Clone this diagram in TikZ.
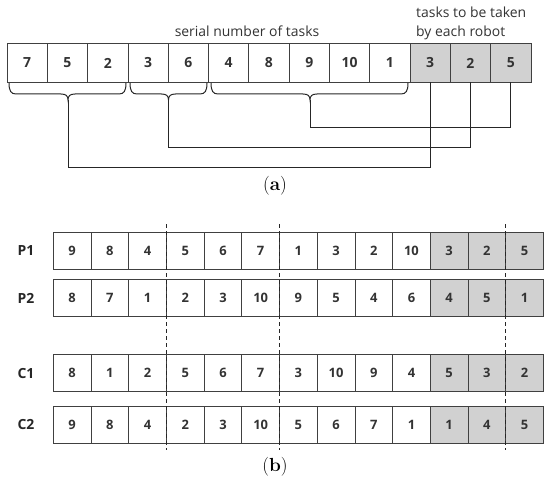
\documentclass[tikz,border=0pt]{standalone}
\usepackage{fontspec}
\newfontfamily\sansf{Open Sans}
\tikzset{
  cellA/.style={draw=black!75, line width=0.8bp, minimum width=40.3bp, minimum height=38.7bp,
    inner sep=0pt, outer sep=0pt, font=\sansf\bfseries\fontsize{14}{16}\selectfont, text=black!80},
  cellB/.style={draw=black!75, line width=0.8bp, minimum width=37.7bp, minimum height=37bp,
    inner sep=0pt, outer sep=0pt, font=\sansf\bfseries\fontsize{13}{15}\selectfont, text=black!80},
  robot/.style={fill=black!18},
  brace/.style={draw=black!85, line width=1bp},
  conn/.style={draw=black!85, line width=1bp},
  cut/.style={draw=black!85, line width=1bp, dash pattern=on 4bp off 3bp},
  rowlab/.style={font=\sansf\bfseries\fontsize{14}{16}\selectfont, text=black!85},
  caption/.style={font=\fontsize{19}{22}\selectfont},
  note/.style={font=\sansf\fontsize{14}{19}\selectfont, text=black!80, inner sep=0pt}
}
\begin{document}
\begin{tikzpicture}[x=1bp,y=-1bp]
\useasboundingbox (0,0) rectangle (550,490);
% ---------- (a) ----------
\foreach \v [count=\i] in {7,5,2,3,6,4,8,9,10,1}
  \node[cellA] (a\i) at ({7+40.3*(\i-0.5)},63) {\v};
\foreach \v [count=\j from 11] in {3,2,5}
  \node[cellA,robot] (a\j) at ({7+40.3*(\j-0.5)},63) {\v};
\node[note, anchor=base] (serial) at (247,37) {serial number of tasks};
\node[note, anchor=base west] (robtxt1) at (416,18) {tasks to be taken};
\node[note, anchor=base west] (robtxt2) at (416,37) {by each robot};
% braces
\coordinate (t1) at (68,100);
\coordinate (t2) at (168.5,100);
\coordinate (t3) at (310,100);
\draw[brace] (9,83) .. controls (9,91) and (11,94) .. (16,94) -- (61,94)
   .. controls (66,94) and (68,96) .. (t1) .. controls (68,96) and (70,94) .. (75,94)
   -- (119,94) .. controls (124,94) and (126,91) .. (126,83);
\draw[brace] (130,83) .. controls (130,91) and (132,94) .. (137,94) -- (161.5,94)
   .. controls (166.5,94) and (168.5,96) .. (t2) .. controls (168.5,96) and (170.5,94) .. (175.5,94)
   -- (200,94) .. controls (205,94) and (207,91) .. (207,83);
\draw[brace] (211,83) .. controls (211,91) and (213,94) .. (218,94) -- (303,94)
   .. controls (308,94) and (310,96) .. (t3) .. controls (310,96) and (312,94) .. (317,94)
   -- (401,94) .. controls (406,94) and (408,91) .. (408,83);
\draw[conn] (t1) -- ++(0,68) -| (a11.south);
\draw[conn] (t2) -- ++(0,48) -| (a12.south);
\draw[conn] (t3) -- ++(0,28) -| (a13.south);
\node[caption] (capa) at (275,186) {(\textbf{a})};
% ---------- (b) ----------
\newcommand\brow[3]{%
  \foreach \v [count=\i] in {#3}{%
    \ifnum\i>10 \node[cellB,robot] (#1\i) at ({53.3+37.7*(\i-0.5)},#2) {\v};%
    \else \node[cellB] (#1\i) at ({53.3+37.7*(\i-0.5)},#2) {\v};\fi}}
\brow{p}{250.7}{9,8,4,5,6,7,1,3,2,10,3,2,5}
\brow{q}{298.3}{8,7,1,2,3,10,9,5,4,6,4,5,1}
\brow{c}{373.3}{8,1,2,5,6,7,3,10,9,4,5,3,2}
\brow{d}{424.5}{9,8,4,2,3,10,5,6,7,1,1,4,5}
\node[rowlab] (lp1) at (26,250.7) {P1};
\node[rowlab] (lp2) at (26,298.3) {P2};
\node[rowlab] (lc1) at (26,373.3) {C1};
\node[rowlab] (lc2) at (26,424.5) {C2};
\coordinate (k1t) at (p3.east |- 0,224); \coordinate (k1b) at (p3.east |- 0,450);
\coordinate (k2t) at (p6.east |- 0,224); \coordinate (k2b) at (p6.east |- 0,450);
\coordinate (k3t) at (p12.east |- 0,224); \coordinate (k3b) at (p12.east |- 0,450);
\draw[cut] (k1t) -- (k1b);
\draw[cut] (k2t) -- (k2b);
\draw[cut] (k3t) -- (k3b);
\node[caption] (capb) at (275,467) {(\textbf{b})};
\end{tikzpicture}
\end{document}
